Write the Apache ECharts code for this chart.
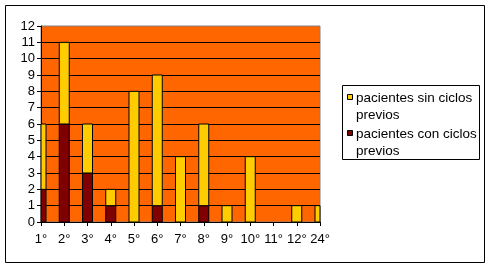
<!DOCTYPE html>
<html><head><meta charset="utf-8">
<script src="https://cdn.jsdelivr.net/npm/echarts@6/dist/echarts.min.js"></script>
<style>html,body{margin:0;padding:0;background:#fff}#c{width:491px;height:269px}</style>
</head><body><div id="c"></div>
<script>
var categories = ['1°','2°','3°','4°','5°','6°','7°','8°','9°','10°','11°','12°','24°'];
var conCiclos = [2,6,3,1,0,1,0,1,0,0,0,0,0];
var sinCiclos = [4,5,3,1,8,8,4,5,1,4,0,1,1];
var yTicks = {min:0, max:12, interval:1};
var legendLines = [['pacientes sin ciclos','previos'],['pacientes con ciclos','previos']];
var colors = {sin:'#FFCC00', con:'#800000'};

var conData = categories.map(function(c,i){return [i, 0, conCiclos[i]];});
var sinData = categories.map(function(c,i){return [i, conCiclos[i], conCiclos[i]+sinCiclos[i]];});

function renderItem(params, api){
  var idx = api.value(0), base = api.value(1), top = api.value(2);
  if (!(top > base)) return null;
  var p0 = api.coord([idx, base]), p1 = api.coord([idx, top]);
  var w = 10;
  var cs = params.coordSys;
  var r = echarts.graphic.clipRectByRect(
    {x:p0[0]-w/2, y:p1[1], width:w, height:p0[1]-p1[1]},
    {x:cs.x, y:cs.y, width:cs.width, height:cs.height});
  if (!r) return null;
  return {type:'rect', shape:r, style:{fill:api.visual('color'), stroke:'#000', lineWidth:1}};
}

var chart = echarts.init(document.getElementById('c'), null, {renderer:'canvas'});
var font = 'Liberation Sans, Arial, sans-serif';
var lg = {x:342, y:85, w:137, h:74};
var graphics = [
  {type:'rect', shape:{x:5.5, y:5.5, width:479, height:257}, style:{fill:null, stroke:'#000', lineWidth:1}, silent:true},
  {type:'rect', shape:{x:lg.x+0.5, y:lg.y+0.5, width:lg.w, height:lg.h}, style:{fill:'#fff', stroke:'#000', lineWidth:1}, silent:true}
];
var itemColors = [colors.sin, colors.con];
legendLines.forEach(function(lines, k){
  var y0 = 98 + k*36;
  graphics.push({type:'rect', shape:{x:347.5, y:y0-3.5, width:5, height:5}, style:{fill:itemColors[k], stroke:'#000', lineWidth:1}, silent:true});
  graphics.push({type:'text', x:356, y:y0, style:{text:lines[0], font:'13.5px '+font, fill:'#000', textVerticalAlign:'middle', verticalAlign:'middle'}, silent:true});
  graphics.push({type:'text', x:356, y:y0+17, style:{text:lines[1], font:'13.5px '+font, fill:'#000', textVerticalAlign:'middle', verticalAlign:'middle'}, silent:true});
});

chart.setOption({
  animation:false,
  backgroundColor:'#fff',
  textStyle:{fontFamily:font},
  grid:{left:41, top:26, width:279, height:196, show:true, backgroundColor:'#FF6600', borderColor:'#808080', borderWidth:1},
  xAxis:{type:'category', data:categories, boundaryGap:false,
    axisLine:{lineStyle:{color:'#000'}}, axisTick:{show:true, length:4, lineStyle:{color:'#000'}},
    axisLabel:{color:'#000', fontSize:13, margin:11, fontFamily:font, interval:0},
    splitLine:{show:false}},
  yAxis:{type:'value', min:yTicks.min, max:yTicks.max, interval:yTicks.interval,
    axisLine:{show:true, lineStyle:{color:'#000'}}, axisTick:{show:true, length:4, lineStyle:{color:'#000'}},
    axisLabel:{color:'#000', fontSize:13, margin:6, fontFamily:font},
    splitLine:{show:true, showMaxLine:false, lineStyle:{color:'#000', width:1}}},
  series:[
    {name:'pacientes con ciclos previos', type:'custom', renderItem:renderItem, data:conData,
     encode:{x:0, y:[1,2]}, itemStyle:{color:colors.con}},
    {name:'pacientes sin ciclos previos', type:'custom', renderItem:renderItem, data:sinData,
     encode:{x:0, y:[1,2]}, itemStyle:{color:colors.sin}}
  ],
  graphic:graphics
});
</script></body></html>
